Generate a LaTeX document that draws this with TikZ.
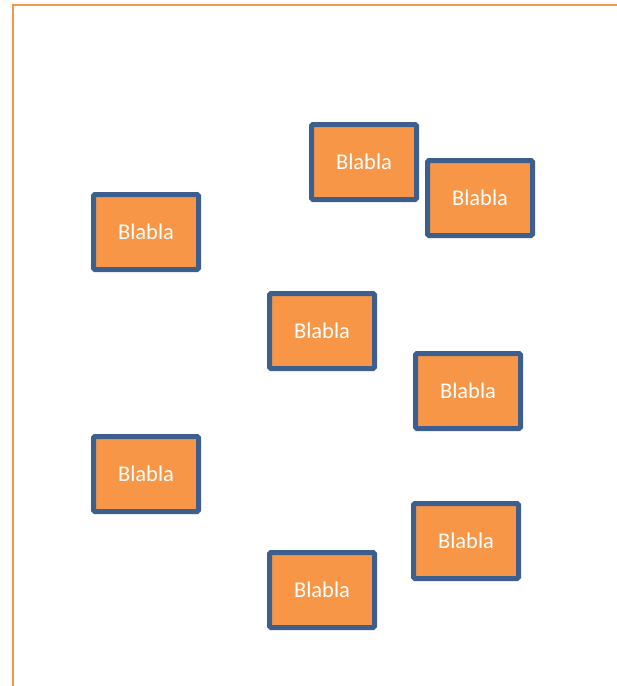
\documentclass[tikz,border=0pt]{standalone}
\usepackage{fontspec}
\setmainfont{Carlito}
\definecolor{boxfill}{HTML}{F79646}
\definecolor{boxline}{HTML}{3C5F8E}
\definecolor{frameline}{HTML}{F79646}
\begin{document}
\begin{tikzpicture}[x=1pt,y=-1pt,
  bbox/.style={draw=boxline, fill=boxfill, line width=5pt, rounded corners=1.5pt,
    minimum width=105pt, minimum height=75pt, inner sep=0pt,
    text=white, font=\fontsize{22.5}{26}\selectfont}]
\useasboundingbox (0,0) rectangle (617,686);
\draw[frameline, line width=2pt] (13,690) -- (13,5) -- (620,5);
\node[bbox] (b1) at (146,232) {Blabla};
\node[bbox] (b2) at (364,162) {Blabla};
\node[bbox] (b3) at (480,198) {Blabla};
\node[bbox] (b4) at (322,331) {Blabla};
\node[bbox] (b5) at (468,391) {Blabla};
\node[bbox] (b6) at (146,474) {Blabla};
\node[bbox] (b7) at (466,541) {Blabla};
\node[bbox] (b8) at (322,590) {Blabla};
\end{tikzpicture}
\end{document}
